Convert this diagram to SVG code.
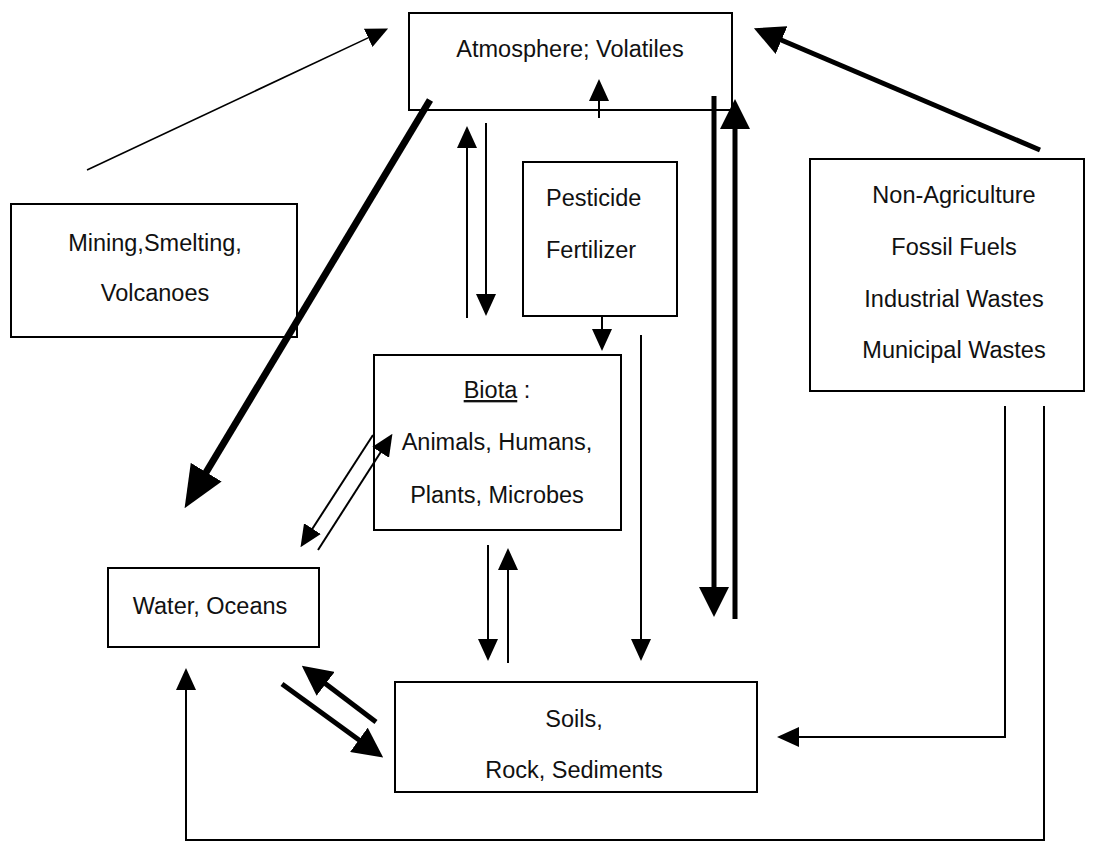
<svg xmlns="http://www.w3.org/2000/svg" width="1098" height="857" viewBox="0 0 1098 857">
<style>
.box{fill:#fff;stroke:#000;stroke-width:2}
.t{font-family:"Liberation Sans",Arial,sans-serif;font-size:23.5px;fill:#111}
.m{text-anchor:middle}
.thin{fill:none;stroke:#000;stroke-width:2}
.hair{fill:none;stroke:#000;stroke-width:1.6}
.thick{fill:none;stroke:#000;stroke-width:5}
.heavy{fill:none;stroke:#000;stroke-width:7}
</style>
<defs>
<marker id="ahThin" markerUnits="userSpaceOnUse" markerWidth="22" markerHeight="20" viewBox="0 0 22 20" refX="1" refY="10" orient="auto"><path d="M0,0 L22,10 L0,20 z" fill="#000"/></marker>
<marker id="ahThick" markerUnits="userSpaceOnUse" markerWidth="30" markerHeight="30" viewBox="0 0 30 30" refX="1" refY="15" orient="auto"><path d="M0,0 L30,15 L0,30 z" fill="#000"/></marker>
<marker id="ahBig" markerUnits="userSpaceOnUse" markerWidth="42" markerHeight="36" viewBox="0 0 42 36" refX="1" refY="18" orient="auto"><path d="M0,0 L42,18 L0,36 z" fill="#000"/></marker>
</defs>
<rect width="1098" height="857" fill="#fff"/>
<g id="atmosphere">
<rect class="box" x="409" y="13" width="323" height="97"/>
<text class="t m" x="570" y="57">Atmosphere; Volatiles</text>
</g>
<g id="mining">
<rect class="box" x="11" y="204" width="286" height="133"/>
<text class="t m" x="155" y="251">Mining,Smelting,</text>
<text class="t m" x="155" y="301">Volcanoes</text>
</g>
<g id="pesticide">
<rect class="box" x="523" y="162" width="154" height="154"/>
<text class="t" x="546" y="206">Pesticide</text>
<text class="t" x="546" y="258">Fertilizer</text>
</g>
<g id="nonagriculture">
<rect class="box" x="810" y="159" width="274" height="232"/>
<text class="t m" x="954" y="203">Non-Agriculture</text>
<text class="t m" x="954" y="255">Fossil Fuels</text>
<text class="t m" x="954" y="307">Industrial Wastes</text>
<text class="t m" x="954" y="358">Municipal Wastes</text>
</g>
<g id="biota">
<rect class="box" x="374" y="355" width="247" height="175"/>
<text class="t m" x="497" y="398"><tspan text-decoration="underline">Biota</tspan> :</text>
<text class="t m" x="497" y="450">Animals, Humans,</text>
<text class="t m" x="497" y="503">Plants, Microbes</text>
</g>
<g id="water">
<rect class="box" x="108" y="568" width="211" height="79"/>
<text class="t m" x="210" y="614">Water, Oceans</text>
</g>
<g id="soils">
<rect class="box" x="395" y="682" width="362" height="110"/>
<text class="t m" x="574" y="727">Soils,</text>
<text class="t m" x="574" y="778">Rock, Sediments</text>
</g>
<g id="connectors">
<line class="hair" x1="87" y1="170" x2="369.1" y2="37.4" marker-end="url(#ahThin)"/>
<line class="heavy" x1="430" y1="100" x2="205.7" y2="473" marker-end="url(#ahBig)"/>
<line class="thick" x1="1040" y1="150" x2="780.6" y2="39.7" stroke-width="6" marker-end="url(#ahThick)"/>
<line class="thin" x1="467" y1="318" x2="467" y2="147" marker-end="url(#ahThin)"/>
<line class="thin" x1="486" y1="123" x2="486" y2="295" marker-end="url(#ahThin)"/>
<line class="thin" x1="599" y1="118" x2="599" y2="100" marker-end="url(#ahThin)"/>
<line class="thin" x1="602" y1="316" x2="602" y2="330" marker-end="url(#ahThin)"/>
<line class="thin" x1="641" y1="335" x2="641" y2="640" marker-end="url(#ahThin)"/>
<line class="thin" x1="488" y1="545" x2="488" y2="640" marker-end="url(#ahThin)"/>
<line class="thin" x1="508" y1="663" x2="508" y2="569" marker-end="url(#ahThin)"/>
<line class="thick" x1="714" y1="96" x2="714" y2="588" marker-end="url(#ahThick)"/>
<line class="thick" x1="735" y1="619" x2="735" y2="128" marker-end="url(#ahThick)"/>
<line class="thin" x1="373" y1="435" x2="311.9" y2="529.5" marker-end="url(#ahThin)"/>
<line class="thin" x1="318" y1="550" x2="381.1" y2="451.5" marker-end="url(#ahThin)"/>
<line class="thick" x1="376" y1="722" x2="324.9" y2="683.2" marker-end="url(#ahThick)"/>
<line class="thick" x1="282" y1="684" x2="359.7" y2="740.4" marker-end="url(#ahThick)"/>
<path class="thin" d="M1005,406 V737 H798" marker-end="url(#ahThin)"/>
<path class="thin" d="M1044,406 V840 H186 V689" marker-end="url(#ahThin)"/>
</g>
</svg>
